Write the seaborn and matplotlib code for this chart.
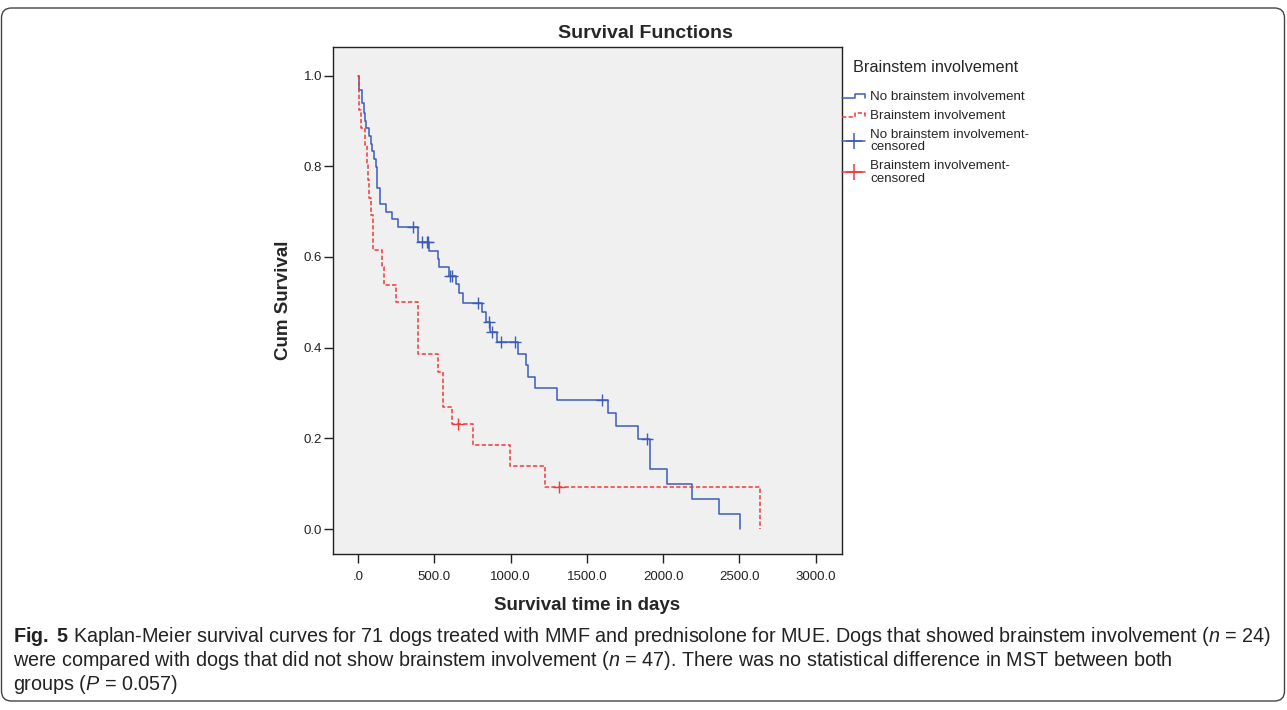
import numpy as np
import pandas as pd
import matplotlib
matplotlib.use("Agg")
import matplotlib.pyplot as plt
import seaborn as sns
from matplotlib.lines import Line2D
from matplotlib.legend_handler import HandlerBase
from matplotlib.patches import FancyBboxPatch
from matplotlib.transforms import IdentityTransform

# Curvas (tiempo en dias, supervivencia acumulada)
no_bs_time = [0, 7, 28, 39, 46, 52, 74, 85, 94, 107, 118, 123, 144, 182, 225, 264,
              391, 467, 522, 533, 598, 642, 664, 690, 811, 836, 868, 913,
              1051, 1099, 1114, 1160, 1306, 1641, 1693, 1837, 1912,
              2023, 2191, 2364, 2506]
no_bs_surv = [1.0, 0.968, 0.939, 0.917, 0.900, 0.885, 0.867, 0.850, 0.834, 0.816, 0.799,
              0.751, 0.717, 0.700, 0.683, 0.667, 0.634, 0.614, 0.595, 0.577, 0.559,
              0.540, 0.520, 0.499, 0.479, 0.457, 0.435, 0.412, 0.386, 0.361, 0.336,
              0.310, 0.284, 0.256, 0.227, 0.198, 0.132, 0.099, 0.066, 0.033, 0.0]
no_bs_cens_time = [358, 418, 450, 461, 603, 614, 786, 861, 880, 935, 1029, 1597, 1896]
no_bs_cens_surv = [0.667, 0.634, 0.634, 0.634, 0.559, 0.559, 0.499, 0.457, 0.435,
                   0.412, 0.412, 0.284, 0.198]

bs_time = [0, 4, 20, 48, 57, 66, 74, 85, 98, 154, 172, 246, 395, 522, 559, 614,
           754, 996, 1224, 2635]
bs_surv = [1.0, 0.923, 0.885, 0.846, 0.808, 0.769, 0.731, 0.692, 0.615, 0.577, 0.538,
           0.500, 0.385, 0.346, 0.269, 0.231, 0.185, 0.138, 0.092, 0.0]
bs_cens_time = [653, 1317]
bs_cens_surv = [0.231, 0.092]

x_ticks = [0, 500, 1000, 1500, 2000, 2500, 3000]
x_labels = [".0", "500.0", "1000.0", "1500.0", "2000.0", "2500.0", "3000.0"]
y_ticks = [0.0, 0.2, 0.4, 0.6, 0.8, 1.0]
y_labels = ["0.0", "0.2", "0.4", "0.6", "0.8", "1.0"]

legend_labels = ["No brainstem involvement", "Brainstem involvement",
                 "No brainstem involvement-\ncensored", "Brainstem involvement-\ncensored"]

caption_lines = [
    r"$\mathbf{Fig.\ 5}$ Kaplan-Meier survival curves for 71 dogs treated with MMF and prednisolone for MUE. "
    r"Dogs that showed brainstem involvement ($\mathit{n}$ = 24)",
    r"were compared with dogs that did not show brainstem involvement ($\mathit{n}$ = 47). "
    r"There was no statistical difference in MST between both",
    r"groups ($\mathit{P}$ = 0.057)",
]

BLUE = "#3d5cb8"
RED = "#ee3b3b"

sns.set_theme(style="white")
plt.rcParams["font.family"] = ["Liberation Sans", "DejaVu Sans"]
plt.rcParams["mathtext.fontset"] = "custom"
plt.rcParams["mathtext.rm"] = "Liberation Sans"
plt.rcParams["mathtext.it"] = "Liberation Sans:italic"
plt.rcParams["mathtext.bf"] = "Liberation Sans:bold"

W, H = 1287, 710
fig = plt.figure(figsize=(W / 100, H / 100), dpi=100)
fig.patch.set_facecolor("white")
ax = fig.add_axes([332.7 / W, 1 - 554 / H, 509 / W, 507 / H])
ax.set_facecolor("#f0f0f0")

df_no = pd.DataFrame({"t": no_bs_time, "s": no_bs_surv})
df_bs = pd.DataFrame({"t": bs_time, "s": bs_surv})

sns.lineplot(data=df_no, x="t", y="s", ax=ax, color=BLUE, lw=1.1,
             drawstyle="steps-post", estimator=None, sort=False)
sns.lineplot(data=df_bs, x="t", y="s", ax=ax, color=RED, lw=1.1,
             linestyle=(0, (2.8, 1.5)), drawstyle="steps-post", estimator=None, sort=False)
sns.scatterplot(x=no_bs_cens_time, y=no_bs_cens_surv, ax=ax, marker="+", s=80,
                color=BLUE, linewidth=1.0, zorder=3)
sns.scatterplot(x=bs_cens_time, y=bs_cens_surv, ax=ax, marker="+", s=80,
                color=RED, linewidth=1.0, zorder=3)

ax.set_xlim(-166, 3170)
ax.set_ylim(-0.055, 1.063)
ax.set_xticks(x_ticks)
ax.set_xticklabels(x_labels)
ax.set_yticks(y_ticks)
ax.set_yticklabels(y_labels)
ax.tick_params(axis="both", direction="out", length=6.5, width=1.0, color="#222222",
               labelsize=9.5, labelcolor="#222222", bottom=True, left=True)
ax.tick_params(axis="y", pad=1)
ax.tick_params(axis="x", pad=5.5)
for sp in ax.spines.values():
    sp.set_visible(True)
    sp.set_color("#222222")
    sp.set_linewidth(1.0)

ax.set_xlabel("Survival time in days", fontsize=13.5, fontweight="bold")
ax.set_ylabel("Cum Survival", fontsize=13.5, fontweight="bold")
ax.xaxis.set_label_coords(0.5, -0.085)
ax.yaxis.set_label_coords(-0.08, 0.5)

fig.text(645 / W, 1 - 33 / H, "Survival Functions", ha="center", va="center",
         fontsize=14, fontweight="bold")


# icono escalonado de la leyenda
class StepHandler(HandlerBase):
    def create_artists(self, legend, orig_handle, xdescent, ydescent, width, height,
                       fontsize, trans):
        xs = np.array([0, 0.55, 0.55, 1.0, 1.0]) * width - xdescent
        ys = np.array([0.2, 0.2, 0.7, 0.7, 0.25]) * height - ydescent
        ln = Line2D(xs, ys)
        ln.update_from(orig_handle)
        ln.set_transform(trans)
        return [ln]


h_no = Line2D([], [], color=BLUE, lw=1.1)
h_bs = Line2D([], [], color=RED, lw=1.1, linestyle=(0, (2.8, 1.5)))
h_no_c = Line2D([], [], color=BLUE, lw=1.1, marker="+", markersize=12, markeredgewidth=1.1)
h_bs_c = Line2D([], [], color=RED, lw=1.1, marker="+", markersize=12, markeredgewidth=1.1)

fig.text(853 / W, 1 - 67 / H, "Brainstem involvement", ha="left", va="center", fontsize=11.7)
leg = ax.legend([h_no, h_bs, h_no_c, h_bs_c], legend_labels,
                handler_map={h_no: StepHandler(), h_bs: StepHandler()},
                loc="upper left", bbox_to_anchor=(842 / W, 1 - 91 / H),
                bbox_transform=fig.transFigure, frameon=False, fontsize=9.6,
                borderpad=0, borderaxespad=0, handlelength=1.75, handletextpad=0.35,
                labelspacing=0.5, numpoints=1)
for t in leg.get_texts():
    t.set_linespacing(1.05)

# pie de figura, ajustado al ancho del recuadro
y_caps = [637, 661, 684]
cap_texts = [fig.text(13 / W, 1 - yc / H, line, ha="left", va="center", fontsize=14,
                      color="#222222") for line, yc in zip(caption_lines, y_caps)]
renderer = fig.canvas.get_renderer()
w0 = cap_texts[0].get_window_extent(renderer).width
new_size = 14 * 1263 / w0
for t in cap_texts:
    t.set_fontsize(new_size)

border = FancyBboxPatch((1.5, 9), 1283, 693, boxstyle="round,pad=0,rounding_size=10",
                        transform=IdentityTransform(), fill=False, edgecolor="#444444", lw=1.0)
fig.add_artist(border)

fig.savefig("out.png", dpi=100)
